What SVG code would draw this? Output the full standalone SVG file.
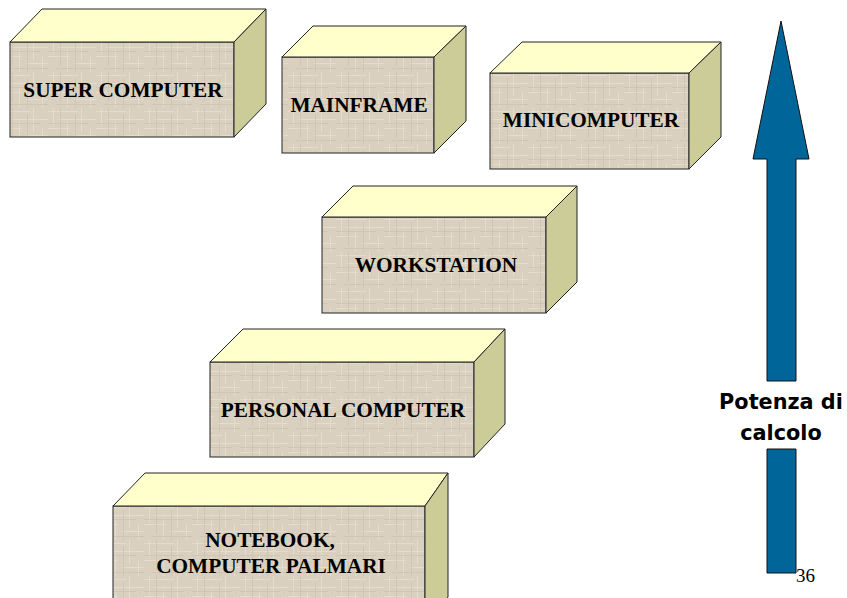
<svg xmlns="http://www.w3.org/2000/svg" width="847" height="598" viewBox="0 0 847 598">
<style>
.front{fill:url(#canvas);stroke:#222;stroke-width:1}
.top{fill:#ffffcc;stroke:#222;stroke-width:1}
.side{fill:#cccc99;stroke:#222;stroke-width:1}
.lbl{font-family:"Liberation Serif","Times New Roman",serif;font-weight:bold;font-size:21.3px;fill:#000;text-anchor:middle}
.arr{fill:#006699;stroke:#111;stroke-width:1}
.pot{font-family:"DejaVu Sans",Verdana,sans-serif;font-weight:bold;font-size:20.8px;fill:#000;text-anchor:middle}
.pg{font-family:"Liberation Serif","Times New Roman",serif;font-size:19px;fill:#000}
</style>
<defs>
<pattern id="canvas" width="48" height="36" patternUnits="userSpaceOnUse">
<rect width="48" height="36" fill="#d9d0bf"/>
<g stroke="#e3dccf" stroke-width="1">
<line x1="0" y1="3.5" x2="30" y2="3.5"/>
<line x1="10" y1="11.5" x2="48" y2="11.5"/>
<line x1="0" y1="20.5" x2="22" y2="20.5"/>
<line x1="26" y1="27.5" x2="48" y2="27.5"/>
<line x1="5.5" y1="0" x2="5.5" y2="18"/>
<line x1="19.5" y1="14" x2="19.5" y2="36"/>
<line x1="33.5" y1="0" x2="33.5" y2="24"/>
<line x1="42.5" y1="20" x2="42.5" y2="36"/>
</g>
<g stroke="#d0c6b3" stroke-width="1">
<line x1="12.5" y1="0" x2="12.5" y2="30"/>
<line x1="27.5" y1="6" x2="27.5" y2="36"/>
<line x1="0" y1="15.5" x2="40" y2="15.5"/>
<line x1="8" y1="32.5" x2="48" y2="32.5"/>
</g>
</pattern>
</defs>

<g id="super-computer">
<rect class="front" x="10" y="42" width="224" height="95"/>
<polygon class="top" points="10,42 42,9 266,9 234,42"/>
<polygon class="side" points="234,42 266,9 266,104 234,137"/>
<text class="lbl" x="123" y="97">SUPER COMPUTER</text>
</g>

<g id="mainframe">
<rect class="front" x="282" y="57" width="152" height="96"/>
<polygon class="top" points="282,57 313,26 466,26 434,57"/>
<polygon class="side" points="434,57 466,26 466,121 434,153"/>
<text class="lbl" x="359" y="112">MAINFRAME</text>
</g>

<g id="minicomputer">
<rect class="front" x="490" y="73" width="199" height="96"/>
<polygon class="top" points="490,73 522,42 721,42 689,73"/>
<polygon class="side" points="689,73 721,42 721,137 689,169"/>
<text class="lbl" x="591" y="127">MINICOMPUTER</text>
</g>

<g id="workstation">
<rect class="front" x="322" y="217" width="224" height="96"/>
<polygon class="top" points="322,217 353,186 577,186 546,217"/>
<polygon class="side" points="546,217 577,186 577,282 546,313"/>
<text class="lbl" x="436" y="272">WORKSTATION</text>
</g>

<g id="personal-computer">
<rect class="front" x="210" y="362" width="264" height="95"/>
<polygon class="top" points="210,362 243,329 505,329 474,362"/>
<polygon class="side" points="474,362 505,329 505,424 474,457"/>
<text class="lbl" x="343" y="417">PERSONAL COMPUTER</text>
</g>

<g id="notebook">
<rect class="front" x="113" y="506" width="312" height="125"/>
<polygon class="top" points="113,506 145,473 448,473 425,506"/>
<polygon class="side" points="425,506 448,473 448,597 425,630"/>
<text class="lbl" x="270" y="547">NOTEBOOK,</text>
<text class="lbl" x="271" y="573">COMPUTER PALMARI</text>
</g>

<g id="arrow">
<polygon class="arr" points="781,21 809,159 796,159 796,381 767,381 767,159 753,159"/>
<polygon class="arr" points="767,449 796,449 796,573 767,573"/>
<text class="pot" x="781" y="409">Potenza di</text>
<text class="pot" x="781" y="440">calcolo</text>
</g>
<text class="pg" x="796" y="582">36</text>
</svg>
